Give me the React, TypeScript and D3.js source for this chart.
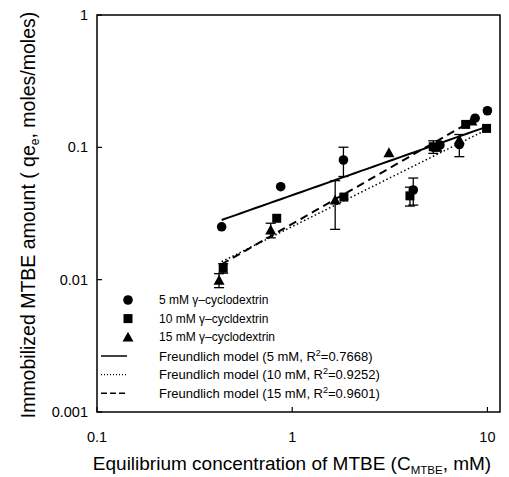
import React from "react";
import * as d3 from "d3";

const xTicks = [0.1, 1, 10];
const yTicks = [0.001, 0.01, 0.1, 1];
const xTickLabels = ["0.1", "1", "10"];
const yTickLabels = ["0.001", "0.01", "0.1", "1"];

// 5 mM γ-cyclodextrin
const c5x = [0.435, 0.873, 1.83, 4.17, 5.71, 7.18, 8.65, 10.0];
const c5y = [0.0251, 0.0504, 0.0802, 0.0476, 0.104, 0.105, 0.166, 0.189];
const c5e = [0, 0, 0.02, 0.011, 0, 0.02, 0, 0];
// 10 mM γ-cyclodextrin
const c10x = [0.443, 0.833, 1.84, 4.01, 5.28, 7.74, 9.9];
const c10y = [0.0122, 0.0291, 0.0421, 0.043, 0.101, 0.149, 0.139];
const c10e = [0.001, 0, 0, 0.007, 0.011, 0, 0];
// 15 mM γ-cyclodextrin
const c15x = [0.422, 0.776, 1.66, 3.13, 5.5, 7.18, 8.33];
const c15y = [0.0099, 0.0237, 0.04, 0.091, 0.1, 0.114, 0.158];
const c15e = [0.0012, 0.003, 0.016, 0, 0.006, 0, 0];

// Freundlich fits: q = K * C^n
const fitNames = [
  "Freundlich model (5 mM, R",
  "Freundlich model (10 mM, R",
  "Freundlich model (15 mM, R",
];
const fitR2 = ["0.7668", "0.9252", "0.9601"];
const fitK = [0.0435, 0.0252, 0.0264];
const fitN = [0.519, 0.735, 0.845];
const fitXmin = [0.435, 0.435, 0.435];
const fitXmax = [10.0, 10.07, 8.15];

const seriesNames = ["5 mM γ\u2013cyclodextrin", "10 mM γ\u2013cycldextrin", "15 mM γ\u2013cyclodextrin"];

const FONT = "'Liberation Sans', Arial, sans-serif";

function Marker({ type, x, y }: { type: number; x: number; y: number }) {
  if (type === 0) return <circle cx={x} cy={y} r={4.8} fill="#000" />;
  if (type === 1) return <rect x={x - 4.5} y={y - 4.5} width={9} height={9} fill="#000" />;
  const s = 5.5;
  return <path d={`M${x},${y - s} L${x + s},${y + s * 0.8} L${x - s},${y + s * 0.8} Z`} fill="#000" />;
}

export default function App() {
  const W = 509, H = 477;
  const x = d3.scaleLog().domain([0.1, 11.6]).range([97, 500]);
  const y = d3.scaleLog().domain([0.001, 1]).range([412, 15]);

  const series = [
    { xs: c5x, ys: c5y, es: c5e },
    { xs: c10x, ys: c10y, es: c10e },
    { xs: c15x, ys: c15y, es: c15e },
  ];
  const dashes = [undefined, "1.5,2.5", "8,5"];
  const widths = [2, 1.5, 2];

  return (
    <svg width={W} height={H} style={{ position: "absolute", left: 0, top: 0, background: "#fff" }} fontFamily={FONT}>
      {/* frame */}
      <rect x={x(0.1)} y={y(1)} width={x(11.6) - x(0.1)} height={y(0.001) - y(1)} fill="none" stroke="#000" strokeWidth={1.5} />
      {/* ticks */}
      {yTicks.map((t, i) => (
        <g key={"yt" + i}>
          <line x1={x(0.1)} x2={x(0.1) + 5} y1={y(t)} y2={y(t)} stroke="#000" strokeWidth={1.2} />
          <text x={88} y={y(t) + 5} fontSize={14.5} textAnchor="end">{yTickLabels[i]}</text>
        </g>
      ))}
      {xTicks.map((t, i) => (
        <g key={"xt" + i}>
          <line x1={x(t)} x2={x(t)} y1={y(0.001)} y2={y(0.001) - 5} stroke="#000" strokeWidth={1.2} />
          <text x={x(t)} y={442} fontSize={14.5} textAnchor="middle">{xTickLabels[i]}</text>
        </g>
      ))}
      {/* fit lines */}
      {fitK.map((K, i) => {
        const xs = d3.range(0, 41).map((j) => fitXmin[i] * Math.pow(fitXmax[i] / fitXmin[i], j / 40));
        const d = d3.line<number>().x((v) => x(v)).y((v) => y(K * Math.pow(v, fitN[i])))(xs);
        return <path key={"fit" + i} d={d || ""} fill="none" stroke="#000" strokeWidth={widths[i]} strokeDasharray={dashes[i]} />;
      })}
      {/* error bars + markers */}
      {series.map((s, si) => (
        <g key={"s" + si}>
          {s.xs.map((xv, j) => {
            const e = s.es[j];
            if (!e) return null;
            const cx = x(xv);
            const y1 = y(s.ys[j] + e);
            const y2 = y(Math.max(s.ys[j] - e, 0.0011));
            return (
              <g key={"e" + j}>
                <line x1={cx} x2={cx} y1={y1} y2={y2} stroke="#000" strokeWidth={1.3} />
                <line x1={cx - 5} x2={cx + 5} y1={y1} y2={y1} stroke="#000" strokeWidth={1.3} />
                <line x1={cx - 5} x2={cx + 5} y1={y2} y2={y2} stroke="#000" strokeWidth={1.3} />
              </g>
            );
          })}
          {s.xs.map((xv, j) => (
            <Marker key={"m" + j} type={si} x={x(xv)} y={y(s.ys[j])} />
          ))}
        </g>
      ))}
      {/* legend */}
      {seriesNames.map((n, i) => (
        <g key={"lg" + i}>
          <Marker type={i} x={128} y={300 + i * 18.6} />
          <text x={159} y={300 + i * 18.6 + 4} fontSize={12}>{n}</text>
        </g>
      ))}
      {fitNames.map((n, i) => {
        const ly = 356 + i * 18.6;
        return (
          <g key={"lf" + i}>
            <line x1={101} x2={127} y1={ly} y2={ly} stroke="#000" strokeWidth={widths[i] * 0.75} strokeDasharray={i === 1 ? "1,2" : i === 2 ? "6,3" : undefined} />
            <text x={159} y={ly + 4.5} fontSize={13}>
              {n}
              <tspan dy={-5} fontSize={9}>2</tspan>
              <tspan dy={5}>={fitR2[i]})</tspan>
            </text>
          </g>
        );
      })}
      {/* axis titles */}
      <text x={292} y={470} fontSize={19} textAnchor="middle">
        Equilibrium concentration of MTBE (C<tspan dy={4} fontSize={11.5}>MTBE</tspan><tspan dy={-4}>, mM)</tspan>
      </text>
      <text transform={`translate(35,215) rotate(-90)`} fontSize={19.5} textAnchor="middle">
        Immobilized MTBE amount ( qe<tspan dy={4} fontSize={12}>e</tspan><tspan dy={-4}>, moles/moles)</tspan>
      </text>
    </svg>
  );
}
